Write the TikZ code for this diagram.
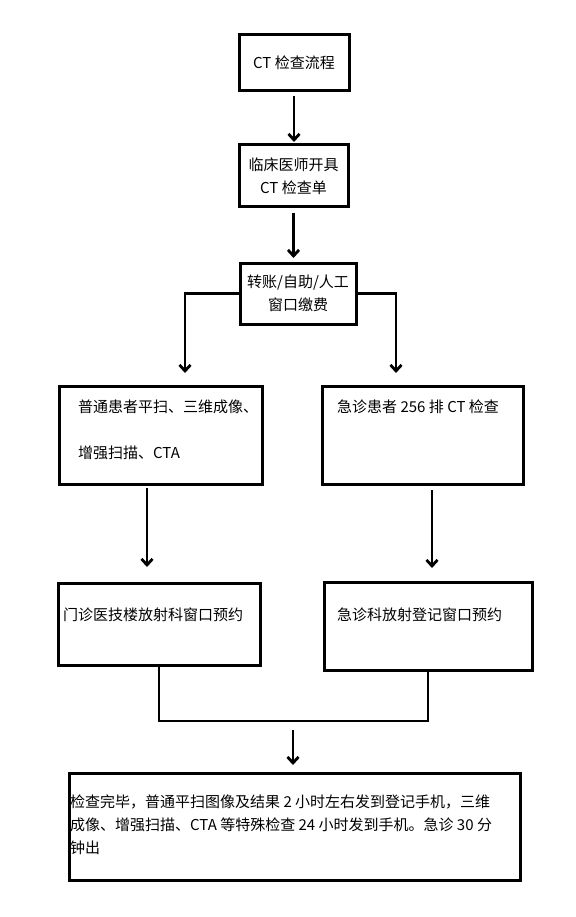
\documentclass[tikz,border=0pt]{standalone}
\usepackage{fontspec}
\setmainfont{Noto Sans CJK SC}
\usetikzlibrary{
    arrows.meta,
    positioning,
    calc
}

\begin{document}
\begin{tikzpicture}[
        x=1pt, y=-1pt,
        font=\fontsize{15pt}{23pt}\selectfont,
        block/.style={
            rectangle,
            draw,
            line width=3pt,
            align=center,
            inner sep=0pt,
            outer sep=0pt
        },
        note/.style={
            align=left,
            inner sep=0pt,
            anchor=north west
        },
        line/.style={
            -{Straight Barb[length=6pt,width=11pt]},
            line width=2.8pt
        },
        joint/.style={
            line width=2.8pt
        }
    ]
    \useasboundingbox[fill=white] (0,0) rectangle (575,917);

    \node[block, minimum width=110pt, minimum height=56pt] (flow) at (294,63)
        {CT 检查流程};

    \node[block, minimum width=109pt, minimum height=62pt] (order) at (293.5,176)
        {临床医师开具\\CT 检查单};

    \node[block, minimum width=116pt, minimum height=61pt] (pay) at (298,293.5)
        {转账/自助/人工\\窗口缴费};

    \node[block, minimum width=203pt, minimum height=98pt] (normal) at (160.5,435) {};
    \node[note] (normaltext) at ([xshift=19pt, yshift=-13.5pt]normal.north west)
        {普通患者平扫、三维成像、\\[23pt]增强扫描、CTA};

    \node[block, minimum width=201pt, minimum height=98pt] (emerg) at (422.5,435) {};
    \node[note] (emergtext) at ([xshift=15pt, yshift=-13.5pt]emerg.north west)
        {急诊患者 256 排 CT 检查};

    \node[block, minimum width=202pt, minimum height=82pt] (outbook) at (159,624) {};
    \node[note] (outbooktext) at ([xshift=5pt, yshift=-24.5pt]outbook.north west)
        {门诊医技楼放射科窗口预约};

    \node[block, minimum width=208pt, minimum height=88pt] (erbook) at (428,626) {};
    \node[note] (erbooktext) at ([xshift=13pt, yshift=-25.5pt]erbook.north west)
        {急诊科放射登记窗口预约};

    \node[block, minimum width=451pt, minimum height=107pt] (result) at (294.5,826.5) {};
    \node[note] (resulttext) at ([xshift=1pt, yshift=-21.5pt]result.north west)
        {检查完毕，普通平扫图像及结果 2 小时左右发到登记手机，三维\\
         成像、增强扫描、CTA 等特殊检查 24 小时发到手机。急诊 30 分\\
         钟出};

    \draw[line, shorten <=5pt, shorten >=3pt] (flow.south) -- (flow.south |- order.north);
    \draw[line, shorten <=6pt, shorten >=5pt] (order.south) -- (order.south |- pay.north);

    \draw[line] (pay.west) -| ([xshift=24.5pt, yshift=13pt]normal.north);
    \draw[line] (pay.east) -| ([xshift=-26.5pt, yshift=13pt]emerg.north);

    \draw[line, shorten <=4pt, shorten >=16pt]
        ([xshift=-13.5pt]normal.south) -- ([xshift=-13.5pt]normal.south |- outbook.north);
    \draw[line, shorten <=6pt, shorten >=14pt]
        ([xshift=9.5pt]emerg.south) -- ([xshift=9.5pt]emerg.south |- erbook.north);

    \coordinate (merge) at (293,721);
    \draw[joint] (outbook.south) |- (merge) -| (erbook.south);

    \draw[line, shorten <=9pt, shorten >=8pt] (merge) -- (merge |- result.north);

\end{tikzpicture}
\end{document}
